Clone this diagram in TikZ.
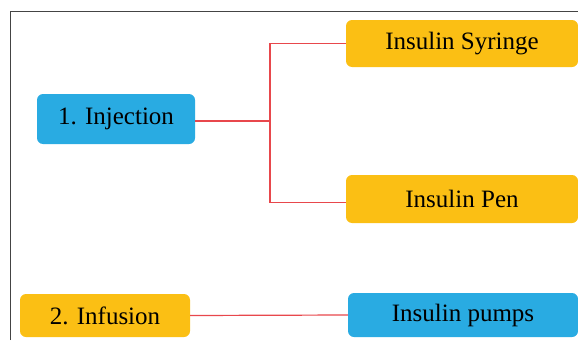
\documentclass[tikz,border=0pt]{standalone}
\usepackage{fontspec}
\setmainfont{Liberation Serif}
\definecolor{boxblue}{HTML}{29ABE2}
\definecolor{boxorange}{HTML}{FBBF14}
\definecolor{linkred}{HTML}{E8474C}
\definecolor{frame}{HTML}{444444}
\begin{document}
\begin{tikzpicture}[x=1pt,y=-1pt,
  box/.style={rounded corners=6pt,inner sep=0pt,font=\fontsize{25}{27}\selectfont,text=black},
  link/.style={draw=linkred,line width=1.2pt}]
\useasboundingbox (0,0) rectangle (578,340);
\draw[frame,line width=1pt] (10,340) -- (10,11.5) -- (578,11.5);
\node[box,fill=boxblue,minimum width=158pt,minimum height=50pt] (inj) at (116,119) {1. Injection};
\node[box,fill=boxorange,minimum width=232pt,minimum height=47pt] (syr) at (462,43.5) {Insulin Syringe};
\node[box,fill=boxorange,minimum width=232pt,minimum height=48pt] (pen) at (462,199) {Insulin Pen};
\node[box,fill=boxorange,minimum width=170pt,minimum height=43pt] (inf) at (105,315.5) {2. Infusion};
\node[box,fill=boxblue,minimum width=230pt,minimum height=44pt] (pump) at (463,315) {Insulin pumps};
\coordinate (j) at (270,121);
\coordinate (p) at ([yshift=-3.5pt]pen.west);
\draw[link] (inj.east |- j) -- (j);
\draw[link] (syr.west) -| (j) |- (p);
\draw[link] (inf.east) -- (pump.west);
\end{tikzpicture}
\end{document}
